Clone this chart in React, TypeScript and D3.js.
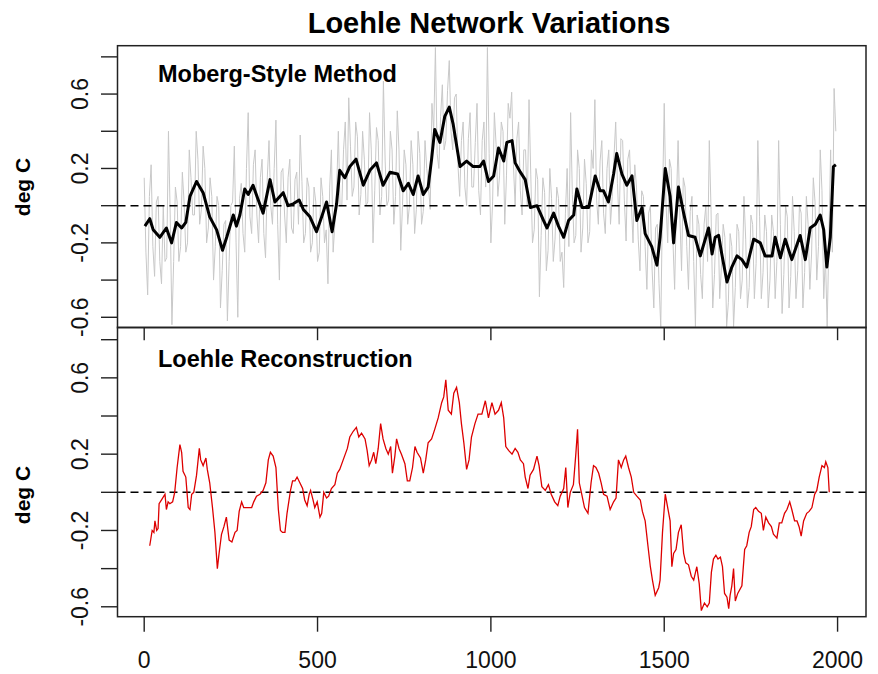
import React, { useEffect, useRef } from "react";
import * as d3 from "d3";

// black smoothed line, top panel [year, deg C]
const mobergSmooth: [number, number][] = [
  [2,-0.11],[16,-0.07],[26,-0.13],[45,-0.17],[64,-0.12],[79,-0.20],[93,-0.09],[108,-0.12],[120,-0.09],[132,0.05],
  [151,0.13],[170,0.07],[189,-0.06],[209,-0.13],[226,-0.24],[238,-0.17],[257,-0.05],[266,-0.11],[276,-0.05],[290,0.09],
  [300,0.06],[314,0.11],[329,0.03],[343,-0.04],[363,0.14],[377,0.02],[401,0.07],[415,0.00],[430,0.01],[447,0.03],
  [459,-0.02],[478,-0.06],[497,-0.14],[512,-0.06],[526,0.02],[542,-0.14],[555,0.01],[564,0.19],[579,0.15],[593,0.21],
  [611,0.25],[632,0.11],[651,0.19],[670,0.23],[689,0.11],[709,0.18],[731,0.17],[747,0.08],[762,0.12],[776,0.06],
  [790,0.16],[805,0.06],[819,0.10],[829,0.25],[838,0.41],[853,0.34],[867,0.48],[880,0.53],[891,0.44],[911,0.21],
  [930,0.24],[949,0.21],[968,0.21],[979,0.24],[993,0.13],[1008,0.16],[1022,0.31],[1037,0.24],[1046,0.34],[1061,0.35],
  [1070,0.23],[1085,0.18],[1099,0.14],[1114,-0.01],[1133,0.00],[1152,-0.08],[1162,-0.12],[1181,-0.04],[1195,-0.11],[1210,-0.17],
  [1224,-0.08],[1239,-0.05],[1248,0.09],[1263,-0.01],[1282,-0.01],[1301,0.16],[1315,0.08],[1325,0.08],[1339,0.02],[1354,0.17],
  [1363,0.28],[1378,0.17],[1392,0.11],[1407,0.16],[1421,-0.08],[1436,-0.01],[1445,-0.15],[1464,-0.22],[1479,-0.32],[1488,-0.17],
  [1503,0.20],[1517,0.05],[1527,-0.20],[1541,0.10],[1556,-0.04],[1570,-0.16],[1589,-0.17],[1604,-0.27],[1628,-0.12],[1638,-0.26],
  [1647,-0.17],[1657,-0.16],[1666,-0.26],[1681,-0.41],[1695,-0.33],[1710,-0.27],[1724,-0.29],[1738,-0.33],[1758,-0.18],[1777,-0.20],
  [1791,-0.27],[1811,-0.27],[1820,-0.17],[1835,-0.28],[1849,-0.18],[1868,-0.29],[1892,-0.16],[1907,-0.29],[1921,-0.12],[1936,-0.10],
  [1950,-0.05],[1960,-0.13],[1969,-0.33],[1979,-0.17],[1984,0.04],[1988,0.21],[1995,0.22],
];

// grey raw series: one value per decade (years 0, 10, ... 1990)
const mobergRaw = [
  0.15,-0.48,0.22,-0.38,0.05,-0.42,-0.3,0.4,-0.64,0.1,
  -0.3,0.18,-0.25,0.3,-0.05,0.4,-0.1,0.32,-0.2,0.15,
  -0.4,0.05,-0.55,-0.1,-0.62,0.0,0.32,-0.6,0.12,-0.25,
  0.5,-0.15,0.3,-0.2,0.25,-0.28,0.35,-0.1,0.46,-0.4,
  0.2,-0.2,0.25,-0.15,0.18,0.38,-0.2,0.15,-0.25,0.1,
  -0.3,0.15,-0.2,-0.42,0.3,-0.1,0.4,0.0,0.45,0.58,
  0.05,0.45,-0.05,0.4,0.0,0.5,-0.2,0.42,-0.05,0.67,
  0.0,0.4,-0.1,0.51,-0.24,0.3,-0.1,0.35,-0.15,0.4,
  -0.1,0.35,0.1,0.55,0.85,0.2,0.65,0.35,0.78,0.3,
  0.6,0.05,0.45,0.0,0.5,0.1,0.55,-0.05,0.45,0.85,
  -0.2,0.5,0.05,0.45,-0.1,0.55,0.61,0.0,0.45,-0.05,
  0.3,0.57,-0.2,0.2,-0.49,0.15,-0.35,0.2,-0.3,0.1,
  -0.3,-0.44,0.2,0.5,-0.2,0.3,-0.25,0.25,-0.2,0.3,
  0.57,-0.1,0.35,-0.15,0.3,0.05,0.45,-0.1,0.35,-0.19,
  0.3,-0.2,0.1,-0.35,0.05,-0.45,0.0,-0.55,-0.1,-0.65,
  0.55,-0.2,0.2,-0.45,0.35,-0.35,0.1,-0.45,0.05,-0.65,
  -0.1,-0.5,0.0,0.35,-0.55,-0.05,-0.5,-0.1,-0.65,-0.15,
  -0.65,-0.1,-0.5,0.05,-0.55,-0.05,-0.5,0.35,-0.5,-0.05,
  -0.55,-0.05,-0.5,0.35,-0.58,0.0,-0.55,0.05,-0.5,0.0,
  -0.55,0.05,-0.45,0.15,-0.4,0.3,-0.5,-0.65,0.3,0.63,
];

// grey raw series, mid-decade values (years 5, 15, ... 1995)
const mobergRawMid = [
  -0.25,0.05,-0.22,0.02,-0.3,0.0,-0.28,-0.05,-0.3,0.02,
  -0.22,0.02,-0.2,0.15,-0.05,0.25,-0.02,0.2,-0.12,0.05,
  -0.22,0.0,-0.35,-0.08,-0.3,0.02,-0.2,0.04,-0.15,0.2,
  -0.06,0.22,-0.05,0.15,-0.15,0.15,0.0,0.2,-0.1,0.18,
  -0.05,0.15,-0.12,0.14,-0.1,0.13,-0.15,0.1,-0.2,0.02,
  -0.25,0.05,-0.13,0.1,-0.25,0.08,0.0,0.3,0.03,0.32,
  0.1,0.37,0.06,0.25,0.02,0.3,0.08,0.35,0.05,0.24,
  0.03,0.3,0.05,0.3,0.0,0.22,0.0,0.22,-0.02,0.28,
  -0.03,0.2,-0.02,0.4,0.28,0.48,0.3,0.62,0.4,0.58,
  0.22,0.35,0.1,0.36,0.1,0.34,0.08,0.35,0.1,0.28,
  0.02,0.33,0.16,0.4,0.16,0.47,0.22,0.36,0.08,0.3,
  0.0,0.17,-0.13,0.14,-0.16,0.07,-0.24,0.04,-0.18,0.04,
  -0.25,-0.04,-0.22,0.06,-0.16,0.2,-0.12,0.12,-0.14,0.2,
  0.03,0.24,-0.04,0.2,-0.1,0.26,0.12,0.36,0.03,0.25,
  0.02,0.22,-0.18,0.08,-0.22,-0.04,-0.34,-0.12,-0.42,0.02,
  0.02,0.25,-0.18,0.0,-0.05,0.15,-0.22,-0.03,-0.3,-0.05,
  -0.37,-0.1,-0.3,-0.02,-0.37,-0.04,-0.33,-0.17,-0.52,-0.22,
  -0.44,-0.14,-0.4,-0.18,-0.44,-0.1,-0.31,-0.06,-0.36,-0.14,
  -0.4,-0.14,-0.3,-0.1,-0.37,-0.06,-0.38,-0.14,-0.35,-0.04,
  -0.36,-0.1,-0.26,0.02,-0.22,0.08,-0.27,-0.18,-0.25,0.4,
];

// red line, bottom panel [year, deg C]
const loehle: [number, number][] = [
  [16,-0.28],[23,-0.20],[28,-0.21],[31,-0.15],[36,-0.20],[40,-0.19],[43,-0.06],[50,-0.04],[60,-0.01],[64,-0.09],
  [69,-0.05],[74,-0.06],[82,-0.05],[88,0.00],[95,0.13],[103,0.25],[108,0.21],[112,0.11],[120,0.08],[127,-0.08],
  [132,-0.09],[137,-0.01],[143,0.00],[151,0.09],[159,0.23],[163,0.17],[170,0.14],[178,0.18],[182,0.12],[189,0.05],
  [197,-0.08],[204,-0.21],[211,-0.40],[216,-0.32],[223,-0.22],[230,-0.18],[237,-0.13],[245,-0.25],[253,-0.26],[262,-0.21],
  [268,-0.20],[274,-0.10],[281,-0.05],[287,-0.08],[300,-0.08],[310,-0.08],[316,-0.05],[324,-0.02],[334,-0.01],[343,0.01],
  [351,0.05],[358,0.17],[364,0.21],[372,0.19],[380,0.13],[387,-0.09],[393,-0.20],[399,-0.21],[406,-0.21],[412,-0.11],
  [422,0.01],[428,0.06],[435,0.06],[441,0.08],[449,0.05],[457,0.02],[463,-0.04],[470,-0.07],[476,-0.01],[480,0.01],
  [487,-0.04],[492,-0.08],[499,-0.05],[507,-0.13],[512,-0.11],[518,0.00],[526,-0.03],[532,-0.02],[540,0.02],[550,0.04],
  [557,0.10],[564,0.12],[574,0.17],[586,0.23],[593,0.29],[603,0.32],[612,0.34],[619,0.29],[627,0.31],[637,0.28],
  [643,0.22],[649,0.14],[656,0.17],[662,0.21],[668,0.15],[675,0.23],[682,0.36],[689,0.28],[697,0.23],[704,0.20],
  [711,0.24],[716,0.10],[723,0.19],[728,0.28],[735,0.23],[742,0.20],[752,0.15],[759,0.06],[766,0.06],[774,0.13],
  [781,0.24],[787,0.21],[797,0.18],[805,0.10],[812,0.17],[819,0.26],[829,0.28],[838,0.33],[848,0.39],[858,0.47],
  [864,0.50],[870,0.59],[877,0.43],[886,0.41],[893,0.52],[901,0.55],[909,0.47],[915,0.36],[922,0.26],[930,0.12],
  [937,0.17],[944,0.29],[954,0.36],[963,0.41],[974,0.41],[984,0.48],[993,0.39],[1003,0.47],[1012,0.41],[1022,0.43],
  [1030,0.47],[1037,0.39],[1043,0.24],[1051,0.22],[1061,0.20],[1070,0.23],[1078,0.21],[1085,0.17],[1094,0.15],[1099,0.08],
  [1107,0.02],[1113,0.09],[1123,0.12],[1133,0.19],[1139,0.14],[1147,0.03],[1157,0.01],[1166,0.04],[1174,-0.01],[1184,-0.05],
  [1193,-0.07],[1200,-0.02],[1210,0.02],[1216,0.13],[1222,-0.08],[1229,0.00],[1238,0.04],[1245,0.20],[1250,0.33],[1255,0.05],
  [1262,-0.01],[1270,-0.08],[1280,-0.11],[1289,0.05],[1296,0.14],[1303,0.13],[1311,0.10],[1318,0.05],[1325,-0.01],[1335,-0.02],
  [1344,-0.09],[1354,-0.05],[1361,-0.03],[1368,0.17],[1376,0.13],[1383,0.17],[1389,0.19],[1397,0.13],[1405,0.08],[1412,0.00],
  [1421,-0.02],[1431,-0.04],[1437,-0.10],[1445,-0.15],[1453,-0.28],[1460,-0.39],[1466,-0.46],[1474,-0.54],[1484,-0.50],[1488,-0.46],
  [1495,-0.21],[1503,-0.01],[1510,-0.08],[1517,-0.15],[1522,-0.39],[1527,-0.32],[1534,-0.30],[1541,-0.21],[1549,-0.17],[1556,-0.32],
  [1562,-0.37],[1570,-0.38],[1578,-0.44],[1585,-0.46],[1594,-0.39],[1601,-0.48],[1607,-0.62],[1616,-0.58],[1624,-0.60],[1630,-0.58],
  [1636,-0.42],[1642,-0.35],[1649,-0.33],[1655,-0.35],[1662,-0.34],[1668,-0.39],[1674,-0.53],[1681,-0.55],[1686,-0.61],[1690,-0.54],
  [1695,-0.49],[1700,-0.40],[1705,-0.57],[1712,-0.53],[1724,-0.49],[1732,-0.30],[1738,-0.28],[1745,-0.21],[1751,-0.18],[1758,-0.09],
  [1764,-0.08],[1772,-0.10],[1780,-0.11],[1786,-0.20],[1793,-0.13],[1801,-0.16],[1809,-0.18],[1815,-0.22],[1825,-0.24],[1832,-0.16],
  [1839,-0.16],[1847,-0.11],[1854,-0.09],[1862,-0.05],[1868,-0.09],[1876,-0.15],[1883,-0.15],[1889,-0.18],[1895,-0.23],[1902,-0.15],
  [1911,-0.11],[1918,-0.10],[1926,-0.08],[1934,-0.01],[1940,0.01],[1947,0.08],[1955,0.14],[1962,0.13],[1966,0.16],[1972,0.13],
  [1976,0.00],
];

const xTicks = [0, 500, 1000, 1500, 2000];
const yTicks = [-0.6, -0.4, -0.2, 0, 0.2, 0.4, 0.6, 0.8];
const yLabels = [-0.6, -0.2, 0.2, 0.6];

const FONT = "'Liberation Sans', Arial, Helvetica, sans-serif";

export default function App() {
  const svgRef = useRef<SVGSVGElement>(null);

  useEffect(() => {
    const svg = d3.select(svgRef.current);
    svg.selectAll("*").remove();

    const left = 117.5, right = 866;
    const x = d3.scaleLinear().domain([-77, 2082]).range([left, right]);
    const yTop = d3.scaleLinear().domain([-0.656, 0.86]).range([327.7, 45.7]);
    const yBot = d3.scaleLinear().domain([-0.652, 0.865]).range([616.7, 327.3]);

    svg.append("rect").attr("width", 878).attr("height", 674).attr("fill", "white");

    svg.append("text")
      .attr("x", 489).attr("y", 33)
      .attr("text-anchor", "middle")
      .style("font-family", FONT).style("font-weight", "bold").style("font-size", "29px")
      .text("Loehle Network Variations");

    const panels = [
      { y: yTop, id: "clipTop", label: "Moberg-Style Method", labelY: 82, degY: 187 },
      { y: yBot, id: "clipBot", label: "Loehle Reconstruction", labelY: 366.5, degY: 495 },
    ];

    // decade + mid-decade values merged into one annual-ish trace
    const raw: [number, number][] = [];
    mobergRaw.forEach((v, k) => {
      raw.push([k * 10, v]);
      raw.push([k * 10 + 5, mobergRawMid[k]]);
    });

    panels.forEach((p, i) => {
      const [y0, y1] = p.y.range();
      const defs = svg.append("defs");
      defs.append("clipPath").attr("id", p.id)
        .append("rect").attr("x", left).attr("y", y1).attr("width", right - left).attr("height", y0 - y1);

      const g = svg.append("g").attr("clip-path", `url(#${p.id})`);
      const line = d3.line<[number, number]>().x(d => x(d[0])).y(d => p.y(d[1]));

      if (i === 0) {
        g.append("path")
          .attr("d", line(raw))
          .attr("fill", "none").attr("stroke", "#c8c8c8").attr("stroke-width", 1);
      }

      g.append("line")
        .attr("x1", left).attr("x2", right).attr("y1", p.y(0)).attr("y2", p.y(0))
        .attr("stroke", "black").attr("stroke-width", 1.5).attr("stroke-dasharray", "8,5");

      if (i === 0) {
        g.append("path")
          .attr("d", line(mobergSmooth))
          .attr("fill", "none").attr("stroke", "black").attr("stroke-width", 3)
          .attr("stroke-linejoin", "round");
      } else {
        g.append("path")
          .attr("d", line(loehle))
          .attr("fill", "none").attr("stroke", "#dd0000").attr("stroke-width", 1.3);
      }

      // y axis
      const ya = svg.append("g");
      yTicks.forEach(t => {
        ya.append("line").attr("x1", 101).attr("x2", left).attr("y1", p.y(t)).attr("y2", p.y(t))
          .attr("stroke", "#222").attr("stroke-width", 1.4);
      });
      yLabels.forEach(t => {
        ya.append("text")
          .attr("transform", `translate(88,${p.y(t)}) rotate(-90)`)
          .attr("text-anchor", "middle")
          .style("font-family", FONT).style("font-size", "23px").attr("fill", "#111")
          .text(String(t));
      });

      svg.append("text")
        .attr("transform", `translate(30,${p.degY}) rotate(-90)`)
        .attr("text-anchor", "middle")
        .style("font-family", FONT).style("font-weight", "bold").style("font-size", "21px")
        .text("deg C");

      svg.append("text")
        .attr("x", 158).attr("y", p.labelY)
        .style("font-family", FONT).style("font-weight", "bold").style("font-size", "23.5px")
        .text(p.label);

      // x ticks
      const tickLen = i === 0 ? 12.5 : 15;
      xTicks.forEach(t => {
        svg.append("line").attr("x1", x(t)).attr("x2", x(t)).attr("y1", y0).attr("y2", y0 + tickLen)
          .attr("stroke", "#222").attr("stroke-width", 1.4);
        if (i === 1) {
          svg.append("text")
            .attr("x", x(t)).attr("y", 668)
            .attr("text-anchor", "middle")
            .style("font-family", FONT).style("font-size", "23px").attr("fill", "#111")
            .text(String(t));
        }
      });

      svg.append("rect")
        .attr("x", left).attr("y", y1).attr("width", right - left).attr("height", y0 - y1)
        .attr("fill", "none").attr("stroke", "#222").attr("stroke-width", 1.5);
    });
  }, []);

  return (
    <svg
      ref={svgRef}
      width={878}
      height={674}
      style={{ position: "absolute", left: 0, top: 0, display: "block" }}
    />
  );
}
